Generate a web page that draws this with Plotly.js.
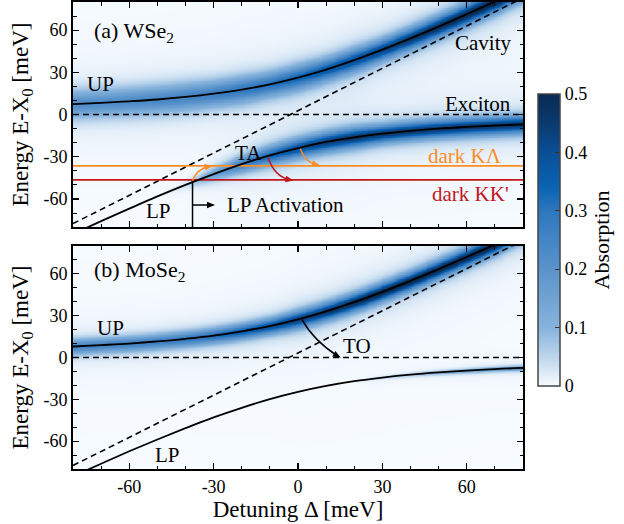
<!DOCTYPE html>
<html><head><meta charset="utf-8">
<script src="https://cdn.plot.ly/plotly-3.0.1.min.js"></script>
<style>html,body{margin:0;padding:0;background:#fff}#plot{width:624px;height:524px}</style>
</head><body><div id="plot"></div>
<script>
// Detuning grid (meV)
const detuning = [-80,-70,-60,-50,-40,-30,-20,-10,0,10,20,30,40,50,60,70,80];
// (a) WSe2 polariton branches (meV)
const upWSe2 = [7.4,8.3,9.4,10.7,12.5,14.8,17.7,21.5,26.3,32.0,38.7,46.1,54.1,62.5,71.3,80.3,89.5];
const lpWSe2 = [-84.9,-75.8,-66.9,-58.2,-50.0,-42.3,-35.2,-29.0,-23.8,-19.5,-16.2,-13.6,-11.6,-10.0,-8.8,-7.8,-7.0];
// (b) MoSe2 polariton branches (meV)
const upMoSe2 = [7.9,8.9,10.0,11.5,13.4,15.7,18.8,22.6,27.4,33.1,39.7,47.1,55.0,63.4,72.1,81.0,90.2];
const lpMoSe2 = [-85.2,-76.2,-67.3,-58.8,-50.7,-43.0,-36.1,-29.9,-24.7,-20.4,-17.0,-14.4,-12.3,-10.7,-9.4,-8.3,-7.5];
// Absorption peak heights and half widths (meV) along each branch
const upPeakWSe2 = [0.22,0.22,0.23,0.24,0.25,0.27,0.29,0.31,0.34,0.37,0.40,0.43,0.46,0.49,0.51,0.52,0.52];
const upWidthWSe2 = [8,8,8,8,8,7.5,7.5,7,7,6.5,6.5,6,6,6,6,6,6];
const lpPeakWSe2 = [0,0,0,0,0.03,0.16,0.26,0.34,0.40,0.44,0.46,0.46,0.46,0.46,0.46,0.46,0.46];
const lpWidthWSe2 = [1,1,1,1,3,4,5,5.5,5.5,5.5,5.5,5,5,5,5,5,5];
const upPeakMoSe2 = [0.25,0.25,0.26,0.27,0.29,0.32,0.36,0.40,0.44,0.47,0.50,0.52,0.52,0.52,0.52,0.52,0.52];
const upWidthMoSe2 = [4.5,4.5,4.5,4.5,4.5,4.5,4.5,4.5,5,5,5,5,5,5,5,5,5];
const lpPeakMoSe2 = [0,0,0,0,0,0,0,0,0,0,0,0.03,0.06,0.10,0.14,0.18,0.22];
const lpWidthMoSe2 = [1.5,1.5,1.5,1.5,1.5,1.5,1.5,1.5,1.5,1.5,1.5,1.5,1.5,1.5,1.5,1.5,1.5];
// Reference lines (meV)
const cavityEndsX = [-80, 80];
const cavityWSe2 = [-77.5, 83];
const cavityMoSe2 = [-77.5, 84];
const excitonE = [0, 0];
const darkKLambda = [-36.5, -36.5];
const darkKKp = [-46.5, -46.5];
const tickVals = [-60,-30,0,30,60];
const tickText = ['-60','-30','0','30','60'];
const cbVals = [0,0.1,0.2,0.3,0.4,0.5];
const cbText = ['0','0.1','0.2','0.3','0.4','0.5'];

// helpers to build the absorption table
function cr(arr, x){ // catmull-rom on detuning grid
  const step = detuning[1]-detuning[0];
  let f = (x - detuning[0])/step; let i = Math.floor(f); if(i>=arr.length-1){i=arr.length-2;} if(i<0)i=0;
  const t = f - i;
  const p0 = arr[Math.max(i-1,0)], p1 = arr[i], p2 = arr[i+1], p3 = arr[Math.min(i+2,arr.length-1)];
  return 0.5*((2*p1)+(-p0+p2)*t+(2*p0-5*p1+4*p2-p3)*t*t+(-p0+3*p1-3*p2+p3)*t*t*t);
}
function lin(arr, x){
  const step = detuning[1]-detuning[0];
  let f = (x - detuning[0])/step; let i = Math.floor(f); if(i>=arr.length-1){i=arr.length-2;} if(i<0)i=0;
  const t = f - i; return arr[i]*(1-t)+arr[i+1]*t;
}
const gx = []; for(let v=-80; v<=80; v+=1) gx.push(v);
const gy = []; for(let v=-80; v<=80; v+=0.5) gy.push(v);
function buildZ(up, upP, upW, lp, lpP, lpW){
  const z = gy.map(()=>new Array(gx.length).fill(0));
  gx.forEach((x,i)=>{
    const eu = cr(up,x), au = lin(upP,x), wu = lin(upW,x);
    const el = cr(lp,x), al = lin(lpP,x), wl = lin(lpW,x);
    gy.forEach((y,j)=>{
      const du=(y-eu)/wu, dl=(y-el)/wl;
      const pu = 0.5*Math.exp(-du*du*0.693) + 0.5/(1+du*du);
      const pl = 0.5*Math.exp(-dl*dl*0.693) + 0.5/(1+dl*dl);
      z[j][i] = Math.min(0.5, au*pu + al*pl);
    });
  });
  return z;
}
const zA = buildZ(upWSe2, upPeakWSe2, upWidthWSe2, lpWSe2, lpPeakWSe2, lpWidthWSe2);
const zB = buildZ(upMoSe2, upPeakMoSe2, upWidthMoSe2, lpMoSe2, lpPeakMoSe2, lpWidthMoSe2);

const FONT = '"Liberation Serif", "Times New Roman", "DejaVu Serif", serif';
const ORANGE = '#ff8c24', RED = '#c2161d';
const blk = {color:'#000', width:1.8, shape:'spline'};
const dsh = {color:'#000', width:1.6, dash:'6px,4px'};

const traces = [
  {type:'heatmap', x:gx, y:gy, z:zA, coloraxis:'coloraxis', zsmooth:'best', xaxis:'x', yaxis:'y', hoverinfo:'skip'},
  {type:'heatmap', x:gx, y:gy, z:zB, coloraxis:'coloraxis', zsmooth:'best', xaxis:'x2', yaxis:'y2', hoverinfo:'skip'},
  {type:'scatter', mode:'lines', x:cavityEndsX, y:cavityWSe2, line:dsh, xaxis:'x', yaxis:'y'},
  {type:'scatter', mode:'lines', x:cavityEndsX, y:excitonE, line:dsh, xaxis:'x', yaxis:'y'},
  {type:'scatter', mode:'lines', x:cavityEndsX, y:darkKLambda, line:{color:ORANGE,width:1.8}, xaxis:'x', yaxis:'y'},
  {type:'scatter', mode:'lines', x:cavityEndsX, y:darkKKp, line:{color:RED,width:1.8}, xaxis:'x', yaxis:'y'},
  {type:'scatter', mode:'lines', x:detuning, y:upWSe2, line:blk, xaxis:'x', yaxis:'y'},
  {type:'scatter', mode:'lines', x:detuning, y:lpWSe2, line:blk, xaxis:'x', yaxis:'y'},
  {type:'scatter', mode:'lines', x:cavityEndsX, y:cavityMoSe2, line:dsh, xaxis:'x2', yaxis:'y2'},
  {type:'scatter', mode:'lines', x:cavityEndsX, y:excitonE, line:dsh, xaxis:'x2', yaxis:'y2'},
  {type:'scatter', mode:'lines', x:detuning, y:upMoSe2, line:blk, xaxis:'x2', yaxis:'y2'},
  {type:'scatter', mode:'lines', x:detuning, y:lpMoSe2, line:blk, xaxis:'x2', yaxis:'y2'}
];

function ax(extra){
  return Object.assign({range:[-80,80], tickmode:'array', tickvals:tickVals, ticktext:tickText,
    ticks:'inside', ticklen:6, tickwidth:1.2, tickcolor:'#000', mirror:'ticks', showline:true, linewidth:2, linecolor:'#000',
    showgrid:false, zeroline:false, tickfont:{family:FONT,size:18,color:'#000'},
    minor:{tickmode:'linear', tick0:0, dtick:10, ticks:'inside', ticklen:3.5, tickwidth:1, tickcolor:'#000'}}, extra);
}
const ytitle = {text:'Energy E-X<sub>0</sub> [meV]', font:{family:FONT,size:23,color:'#000'}, standoff:8};

function lab(text, x, y, xref, yref, opts){
  return Object.assign({text, x, y, xref, yref, showarrow:false, font:{family:FONT,size:21,color:'#000'}, xanchor:'center', yanchor:'middle'}, opts||{});
}
// filled triangular arrow head, sized in pixels (plot: 450 px wide, panels ~224 px tall over 160 meV)
function headShape(xref, yref, tx, ty, fx, fy, color){
  const sx = 450/160, sy = 224/160;
  let dx = (tx-fx)*sx, dy = (ty-fy)*sy; const n = Math.hypot(dx,dy); dx/=n; dy/=n;
  const L = 8, W = 3.2;
  const bx = -dx*L, by = -dy*L;
  const p1 = [tx + (bx - dy*W)/sx, ty + (by + dx*W)/sy];
  const p2 = [tx + (bx + dy*W)/sx, ty + (by - dx*W)/sy];
  return {type:'path', xref, yref, path:`M ${tx},${ty} L ${p1[0]},${p1[1]} L ${p2[0]},${p2[1]} Z`, fillcolor:color, line:{width:0}};
}
const annotations = [
  lab('(a) WSe<sub>2</sub>', -73.3, 58.8, 'x','y', {xanchor:'left', font:{family:FONT,size:22,color:'#000'}}),
  lab('(b) MoSe<sub>2</sub>', -73.3, 61.9, 'x2','y2', {xanchor:'left', font:{family:FONT,size:22,color:'#000'}}),
  lab('UP', -70.3, 21.9, 'x','y'),
  lab('UP', -66.8, 21.4, 'x2','y2'),
  lab('LP', -49.7, -68.6, 'x','y'),
  lab('LP', -46.5, -70.3, 'x2','y2'),
  lab('TA', -17.7, -27, 'x','y'),
  lab('TO', 20.8, 8.3, 'x2','y2'),
  lab('Cavity', 76.6, 51, 'x','y', {xanchor:'right'}),
  lab('Exciton', 76.6, 7.6, 'x','y', {xanchor:'right'}),
  lab('dark KΛ', 73.4, -29.3, 'x','y', {xanchor:'right', font:{family:FONT,size:21,color:ORANGE}}),
  lab("dark KK'", 75.6, -56.2, 'x','y', {xanchor:'right', font:{family:FONT,size:21,color:RED}}),
  lab('LP Activation', -26, -64, 'x','y', {xanchor:'left'})
];
const shapes = [
  {type:'line', xref:'x', yref:'y', x0:-37.5, x1:-37.5, y0:-47, y1:-80, line:{color:'#000', width:1.5}},
  {type:'line', xref:'x', yref:'y', x0:-37.5, x1:-31, y0:-64.3, y1:-64.3, line:{color:'#000', width:1.5}},
  headShape('x','y', -29.5, -64.3, -37.5, -64.3, '#000'),
  {type:'path', xref:'x', yref:'y', path:'M -37.5,-47 Q -36,-38.5 -31.5,-36.9', line:{color:ORANGE,width:1.5}, fillcolor:'rgba(0,0,0,0)'},
  headShape('x','y', -30.3, -36.5, -33, -37.3, ORANGE),
  {type:'path', xref:'x', yref:'y', path:'M -10.6,-30.5 Q -8.5,-44 -2.8,-46.4', line:{color:RED,width:1.5}, fillcolor:'rgba(0,0,0,0)'},
  headShape('x','y', -1.6, -46.8, -4.5, -45.8, RED),
  {type:'path', xref:'x', yref:'y', path:'M 0.8,-24.3 Q 2.5,-34 6.5,-35.6', line:{color:ORANGE,width:1.5}, fillcolor:'rgba(0,0,0,0)'},
  headShape('x','y', 7.8, -36.1, 5.0, -34.8, ORANGE),
  {type:'path', xref:'x2', yref:'y2', path:'M 1.4,27.4 Q 5.4,12.5 14.2,0.9', line:{color:'#000',width:1.5}, fillcolor:'rgba(0,0,0,0)'},
  headShape('x2','y2', 15.2, -0.2, 12.6, 2.9, '#000')
];

const layout = {
  width:624, height:524, margin:{l:73, r:101, t:2, b:55}, paper_bgcolor:'#fff', plot_bgcolor:'#fff', showlegend:false,
  font:{family:FONT, color:'#000'},
  xaxis: ax({domain:[0,1], anchor:'y', showticklabels:false}),
  xaxis2: ax({domain:[0,1], anchor:'y2', title:{text:'Detuning Δ [meV]', font:{family:FONT,size:23,color:'#000'}, standoff:4}}),
  yaxis: ax({domain:[0.518,1], anchor:'x', title:ytitle}),
  yaxis2: ax({domain:[0,0.4775], anchor:'x2', title:ytitle}),
  coloraxis:{cmin:0, cmax:0.5,
    colorscale:[[0,'#f7fbff'],[0.1,'#bcd5ec'],[0.2,'#86b3dc'],[0.4,'#5a93cb'],[0.6,'#2e77bf'],[0.68,'#0a63b3'],[0.8,'#0a4e96'],[0.9,'#0a3a6e'],[1,'#082b55']],
    colorbar:{x:1.0333, xanchor:'left', y:0.4904, yanchor:'middle', len:0.625, lenmode:'fraction', thickness:22, thicknessmode:'pixels',
      outlinewidth:1.5, outlinecolor:'#444', ticks:'inside', ticklen:5, tickcolor:'#333', tickmode:'array', tickvals:cbVals, ticktext:cbText,
      tickfont:{family:FONT,size:18,color:'#000'}, xpad:0, ypad:0,
      title:{text:'Absorption', side:'right', font:{family:FONT,size:22,color:'#000'}}}},
  annotations, shapes
};
Plotly.newPlot('plot', traces, layout, {staticPlot:true});
</script></body></html>
